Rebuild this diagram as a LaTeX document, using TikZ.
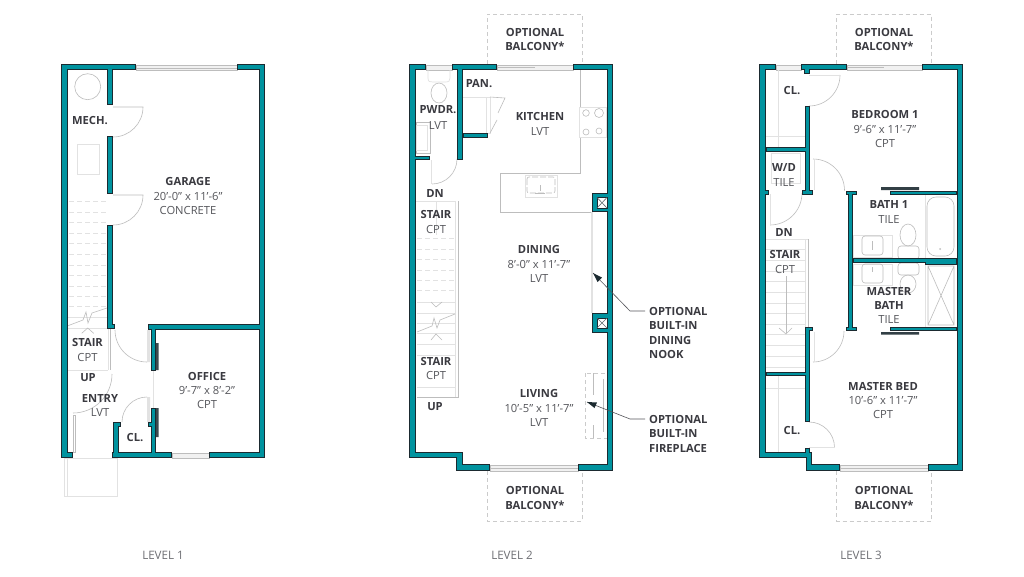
\documentclass[tikz,border=0pt]{standalone}
\usepackage{fontspec}
\setmainfont{Open Sans}
\definecolor{wallteal}{HTML}{00939F}
\definecolor{walldark}{HTML}{1B2A30}
\definecolor{txtdark}{HTML}{3A3A40}
\definecolor{txtsoft}{HTML}{55565B}
\definecolor{fixgray}{HTML}{BDBDBD}
\definecolor{lightgray2}{HTML}{E2E2E2}
\definecolor{winfill}{HTML}{F1F1F1}
\tikzset{
  rn/.style={font=\fontsize{11.2}{13}\selectfont\bfseries,text=txtdark,inner sep=0pt},
  rv/.style={font=\fontsize{11.2}{13}\selectfont,text=txtsoft,inner sep=0pt},
  lev/.style={font=\fontsize{11.6}{14}\selectfont,text=txtsoft!85,inner sep=0pt},
  fix/.style={draw=fixgray,line width=0.6pt},
  faint/.style={draw=lightgray2,line width=0.7pt},
  tread/.style={draw=lightgray2,line width=0.8pt},
  treaddash/.style={draw=lightgray2,line width=0.9pt,dash pattern=on 5pt off 3pt},
  leaf/.style={draw=lightgray2,line width=1pt},
  swing/.style={draw=fixgray,line width=0.6pt},
  win/.style={draw=fixgray,fill=winfill,line width=0.7pt},
  balc/.style={draw=lightgray2!90!black,line width=0.7pt,dash pattern=on 4pt off 3pt},
  lead/.style={draw=txtsoft,line width=0.6pt},
  tip/.style={fill=walldark,draw=none}
}
% wall rectangles x1/y1/x2/y2, outer dimensions
\def\walllist{%
 61/64/67.5/458, 61/64/136/70, 237/64/265/70,
 259/64/265/458, 209/452/265/458, 61/452/73/458,
 112/452/172/458, 148/324/265/330, 151/324/156/371,
 151/408/156/458, 113/422/119/458, 113/422/121/427,
 148/422/156/427,
 107.5/64/113/105, 107.5/136/113/194, 107.5/225/113/329,
 107.5/324/115/329,
 409/64/416/458, 409/64/426/70, 452/64/497/70,
 573/64/613/70, 607/64/613/471, 409/452/463/458,
 456/452/463/471, 456/464/490/471, 578/464/613/471,
 457.5/64/463/160, 457/155/463/160, 463/133/488/138,
 409/156/430/160,
 592/193/610/212, 592/313/610/333,
 759/64/766/458, 759/64/776/70, 801/64/847/70,
 922/64/963/70, 957/64/963/471, 759/452/812/458,
 806/452/812/471, 806/464/840/471, 928/464/963/471,
 804/68/810/74,
 805/106/809.5/194, 802/190/813/194.5, 766/147/809/151.5,
 762/190/769/194.5,
 848.5/191/853/331, 846/191/857/195, 846/327/857/331,
 890/191/957/195, 853/258.5/957/262.5, 925/258.5/957/264.5,
 890/327/957/331,
 805/327/809.5/422, 805/327/813/331, 766/372/809/376,
 805/448/809.5/456}
\begin{document}
\begin{tikzpicture}[x=1pt,y=-1pt]
\useasboundingbox (0,0) rectangle (1024,576);
\fill[white] (0,0) rectangle (1024,576);

% ---------- LEVEL 1 fixtures
\draw[win] (136,65) rectangle (237,70);
\draw[fixgray,line width=0.5pt] (136,68) -- (237,68);
\draw[win] (172,453) rectangle (209,458);
\draw[faint] (64,458) rectangle (117,496);
\draw[faint] (67,458) -- (67,496);
\draw[fix] (87.7,86.7) circle (13);
\draw[faint] (77,144) rectangle (99,174);
\foreach \yy in {201,212,222,233,243,254,265,275,286,296,306}
  \draw[treaddash] (69,\yy) -- (107,\yy);
\foreach \yy in {317,328,370} \draw[tread] (68,\yy) -- (108,\yy);
\draw[tread] (108,329) -- (108,370);
\draw[fixgray,line width=1pt] (110.5,329) -- (110.5,370);
\draw[fix] (68,325.7) -- (83,320) -- (86,312) -- (88,323) -- (92,313) -- (107,308);
\draw[fix] (81.7,333.3) -- (87.7,328) -- (93.7,333.3);
% doors
\draw[swing] (113,107) -- (143,107) arc[start angle=0,end angle=90,radius=30];
\draw[swing] (113,195) -- (143,195) arc[start angle=0,end angle=90,radius=30];
\draw[swing] (115,330) arc[start angle=180,end angle=90,radius=32];
\draw[swing] (122,422) arc[start angle=180,end angle=270,radius=25];
\draw[swing] (73,413) arc[start angle=90,end angle=0,radius=39];
\draw[fix] (73,415) rectangle (75,452);
\fill[lightgray2] (147,330) rectangle (150,362) (147,397) rectangle (150,422);
\draw[faint] (153,371) -- (153,408);
\fill[walldark!85] (156,343) rectangle (158.5,370) (156,408) rectangle (158.5,437);

% ---------- LEVEL 2 fixtures
\draw[balc] (487,64) -- (487,14) -- (582,14) -- (582,64);
\draw[balc] (487,471) -- (487,521) -- (582,521) -- (582,471);
\draw[win] (426,65) rectangle (452,70);
\draw[win] (497,65) rectangle (573,70);
\draw[fixgray,line width=0.5pt] (497,67.5) -- (535,67.5);
\draw[win] (490,465) rectangle (578,471);
\draw[fixgray,line width=0.5pt] (490,468) -- (578,468);
% powder room
\draw[faint] (428,70) -- (428,78) .. controls (428,82) and (430,82) .. (433,82) -- (445,82) .. controls (449,82) and (450,81) .. (450,78) -- (450,70);
\draw[fix] (439,93) ellipse (8 and 10);
\draw[fix] (416,122) rectangle (430,153);
\draw[faint] (416,125) rectangle (427,150);
\draw[leaf] (431,160) -- (431,184);
\draw[swing] (432,184) arc[start angle=90,end angle=0,radius=25];
% pantry
\draw[faint] (463,97) -- (487,97);
\draw[faint] (486,97) rectangle (490,133);
\draw[fix] (490,97) -- (505,98) -- (498,113);
\draw[fix] (490,133) -- (497,120);
% kitchen
\draw[fix] (580.7,70) -- (580.7,173) -- (500,173) -- (500,212) -- (592,212);
\draw[fill=white,faint] (579,107) rectangle (606,137);
\draw[fix] (586,113) circle (3.3) (599,113) circle (4.5) (586,132) circle (3) (599,131) circle (3);
\draw[faint] (525,175) rectangle (557,197);
\draw[fix,rounded corners=2pt,dash pattern=on 6pt off 2pt] (527,177) rectangle (555,193);
\draw[fix] (540,185) -- (540,191) (535,193) -- (545,193);
% nook and fireplace
\draw[draw=lightgray2,line width=1.2pt] (592,212) -- (592,313);
\draw[balc] (585,373) rectangle (607,438);
\draw[fix] (593,373) -- (593,395) (593,425) -- (593,438);
\draw[draw=fixgray,line width=1.2pt] (603.5,379) -- (603.5,432);
% stairs
\draw[tread] (416,201) -- (455,201);
\draw[tread] (436,201) -- (436,235);
\foreach \yy in {238,249,259,270,280,290} \draw[treaddash] (417,\yy) -- (455,\yy);
\foreach \yy in {302,313,323,333,344,355,387} \draw[tread] (417,\yy) -- (455,\yy);
\draw[tread] (455,201) -- (455,397);
\draw[fixgray,line width=1pt] (458,201) -- (458,397) -- (417,397);
\draw[fix] (417,332) -- (432,326) -- (434,318) -- (437,328) -- (440,320) -- (455,314);
\draw[fix] (431,302) -- (436,307) -- (442,302);
\draw[fix] (431,340) -- (436,334) -- (442,340);

% ---------- LEVEL 3 fixtures
\draw[balc] (836.5,64) -- (836.5,14) -- (931,14) -- (931,64);
\draw[balc] (836.5,471) -- (836.5,521) -- (931,521) -- (931,471);
\draw[win] (776,65) rectangle (801,70);
\draw[win] (847,65) rectangle (922,70);
\draw[fixgray,line width=0.5pt] (847,67.5) -- (884,67.5);
\draw[win] (840,465) rectangle (928,471);
\draw[fixgray,line width=0.5pt] (840,468) -- (928,468);
\draw[faint] (778,70) -- (778,147) (766,136) -- (805,136);
\draw[faint] (778,376) -- (778,452) (766,388) -- (805,388);
\draw[swing] (809,106) arc[start angle=90,end angle=0,radius=31];
\draw[faint] (809,75) -- (840,75);
\draw[swing] (813,159) arc[start angle=-90,end angle=0,radius=31.5];
\draw[leaf] (814,159) -- (814,190);
\draw[swing] (813,362) arc[start angle=90,end angle=0,radius=31];
\draw[leaf] (814,332) -- (814,362);
\draw[swing] (809,422) arc[start angle=-90,end angle=0,radius=25.5];
\draw[faint] (809,447) -- (835,447);
\draw[swing] (770,225) arc[start angle=90,end angle=0,radius=32];
\draw[leaf] (770,194) -- (770,225);
\draw[faint] (771,153) rectangle (800,183);
% stair
\draw[tread] (766,239) -- (809,239);
\foreach \yy in {249,260,271,281,292,303,313,324,334,345,356,367} \draw[tread] (766,\yy) -- (805,\yy);
\draw[tread] (805,239) -- (805,327);
\draw[fixgray,line width=1pt] (808,239) -- (808,327);
\draw[fix] (786,276) -- (786,333);
\draw[fix] (779,328) -- (786,334) -- (792,328);
% baths
\draw[faint] (925,195) -- (925,327);
\draw[fix,rounded corners=9pt] (927,197) rectangle (954,256);
\fill[fixgray] (940,249) circle (1);
\draw[faint] (853,235) rectangle (892,257);
\draw[faint] (853,264) rectangle (892,285);
\draw[fix,rounded corners=3pt] (862,236) rectangle (883,255);
\draw[fix,rounded corners=3pt] (862,264) rectangle (883,283);
\draw[fix] (872.5,241) -- (872.5,250) (872.5,267) -- (872.5,272);
\draw[fix] (908,235) ellipse (8 and 11);
\draw[fix,rounded corners=3pt] (898,246) rectangle (919,259);
\draw[fix,rounded corners=3pt] (898,263) rectangle (919,275);
\draw[fix] (908,284) ellipse (8 and 9);
\draw[fix] (928,266) rectangle (954,325) (928,266) -- (954,325) (954,266) -- (928,325);

% ---------- all walls: dark edge first, teal on top so that joints stay clean
\foreach \xa/\ya/\xb/\yb in \walllist
  \draw[draw=walldark,fill=walldark,line width=2pt] ({\xa+0.8},{\ya+0.8}) rectangle ({\xb-0.8},{\yb-0.8});
\foreach \xa/\ya/\xb/\yb in \walllist
  \fill[wallteal] ({\xa+0.8},{\ya+0.8}) rectangle ({\xb-0.8},{\yb-0.8});
\fill[walldark!90] (881,187) rectangle (919,190) (881,332) rectangle (919,334.5);

% columns
\draw[fill=white,draw=walldark,line width=1pt] (597,197.5) rectangle (607,208);
\draw[draw=walldark!70,line width=0.6pt] (597,197.5) -- (607,208) (607,197.5) -- (597,208);
\draw[fill=white,draw=walldark,line width=1pt] (597,318) rectangle (607,328);
\draw[draw=walldark!70,line width=0.6pt] (597,318) -- (607,328) (607,318) -- (597,328);

% ---------- LEVEL 1 labels
\node[rn] (mech) at (90,121) {MECH.};
\node[rn] (garage) at (188,181) {GARAGE};
\node[rv] (garaged) at (188,196) {20’-0” x 11’-6”};
\node[rv] (garagef) at (188,210) {CONCRETE};
\node[rn] (stair1) at (87.5,342) {STAIR};
\node[rv] (stair1f) at (87.5,357) {CPT};
\node[rn] (up1) at (88,378) {UP};
\node[rn] (entry) at (100,398) {ENTRY};
\node[rv] (entryf) at (100,412) {LVT};
\node[rn] (cl1) at (135,438) {CL.};
\node[rn] (office) at (207,376) {OFFICE};
\node[rv] (officed) at (207,390) {9’-7” x 8’-2”};
\node[rv] (officef) at (207,404) {CPT};
\node[lev] (lev1) at (163,555) {LEVEL 1};

% ---------- LEVEL 2 labels
\node[rn] (bal2a) at (535,32) {OPTIONAL};
\node[rn] (bal2b) at (535,46) {BALCONY*};
\node[rn] (pan) at (479,84) {PAN.};
\node[rn] (pwdr) at (438,110) {PWDR.};
\node[rv] (pwdrf) at (438,125) {LVT};
\node[rn] (kitchen) at (540,116) {KITCHEN};
\node[rv] (kitchenf) at (540,131) {LVT};
\node[rn] (dn2) at (435,193) {DN};
\node[rn] (stair2a) at (436,214) {STAIR};
\node[rv] (stair2af) at (436,229) {CPT};
\node[rn] (dining) at (539,249) {DINING};
\node[rv] (diningd) at (539,264) {8’-0” x 11’-7”};
\node[rv] (diningf) at (539,278) {LVT};
\node[rn] (stair2b) at (436,361) {STAIR};
\node[rv] (stair2bf) at (436,375) {CPT};
\node[rn] (up2) at (435,407) {UP};
\node[rn] (living) at (539,393) {LIVING};
\node[rv] (livingd) at (539,408) {10’-5” x 11’-7”};
\node[rv] (livingf) at (539,422) {LVT};
\node[rn] (bal2c) at (535,490) {OPTIONAL};
\node[rn] (bal2d) at (535,505) {BALCONY*};
\node[lev] (lev2) at (512,555) {LEVEL 2};
\node[rn,anchor=west] (nook1) at (649,311) {OPTIONAL};
\node[rn,anchor=west] (nook2) at (649,326) {BUILT-IN};
\node[rn,anchor=west] (nook3) at (649,340) {DINING};
\node[rn,anchor=west] (nook4) at (649,354) {NOOK};
\node[rn,anchor=west] (fire1) at (649,419) {OPTIONAL};
\node[rn,anchor=west] (fire2) at (649,434) {BUILT-IN};
\node[rn,anchor=west] (fire3) at (649,448) {FIREPLACE};
% leaders
\coordinate (nooktip) at (593,273);
\coordinate (firetip) at (587,402);
\draw[lead] ([xshift=-4pt]nook1.west) -- (630,311) -- (nooktip);
\draw[lead] ([xshift=-4pt]fire1.west) -- (630,419) -- (firetip);
\fill[tip] (nooktip) -- (602,277.5) -- (597.5,282) -- cycle;
\fill[tip] (firetip) -- (597,402.5) -- (594.5,408) -- cycle;

% ---------- LEVEL 3 labels
\node[rn] (bal3a) at (884,32) {OPTIONAL};
\node[rn] (bal3b) at (884,46) {BALCONY*};
\node[rn] (cl3a) at (792,91) {CL.};
\node[rn] (bed1) at (885,114) {BEDROOM 1};
\node[rv] (bed1d) at (885,129) {9’-6” x 11’-7”};
\node[rv] (bed1f) at (885,143) {CPT};
\node[rn] (wd) at (784,167) {W/D};
\node[rv] (wdf) at (784,182) {TILE};
\node[rn] (dn3) at (784,232) {DN};
\node[rn] (stair3) at (785,254) {STAIR};
\node[rv] (stair3f) at (785,269) {CPT};
\node[rn] (bath1) at (889,204) {BATH 1};
\node[rv] (bath1f) at (889,219) {TILE};
\node[rn] (mb1) at (889,291) {MASTER};
\node[rn] (mb2) at (889,305) {BATH};
\node[rv] (mbf) at (889,319) {TILE};
\node[rn] (mbed) at (883,386) {MASTER BED};
\node[rv] (mbedd) at (883,400) {10’-6” x 11’-7”};
\node[rv] (mbedf) at (883,414) {CPT};
\node[rn] (cl3b) at (792,431) {CL.};
\node[rn] (bal3c) at (884,490) {OPTIONAL};
\node[rn] (bal3d) at (884,505) {BALCONY*};
\node[lev] (lev3) at (861,555) {LEVEL 3};
\end{tikzpicture}
\end{document}
